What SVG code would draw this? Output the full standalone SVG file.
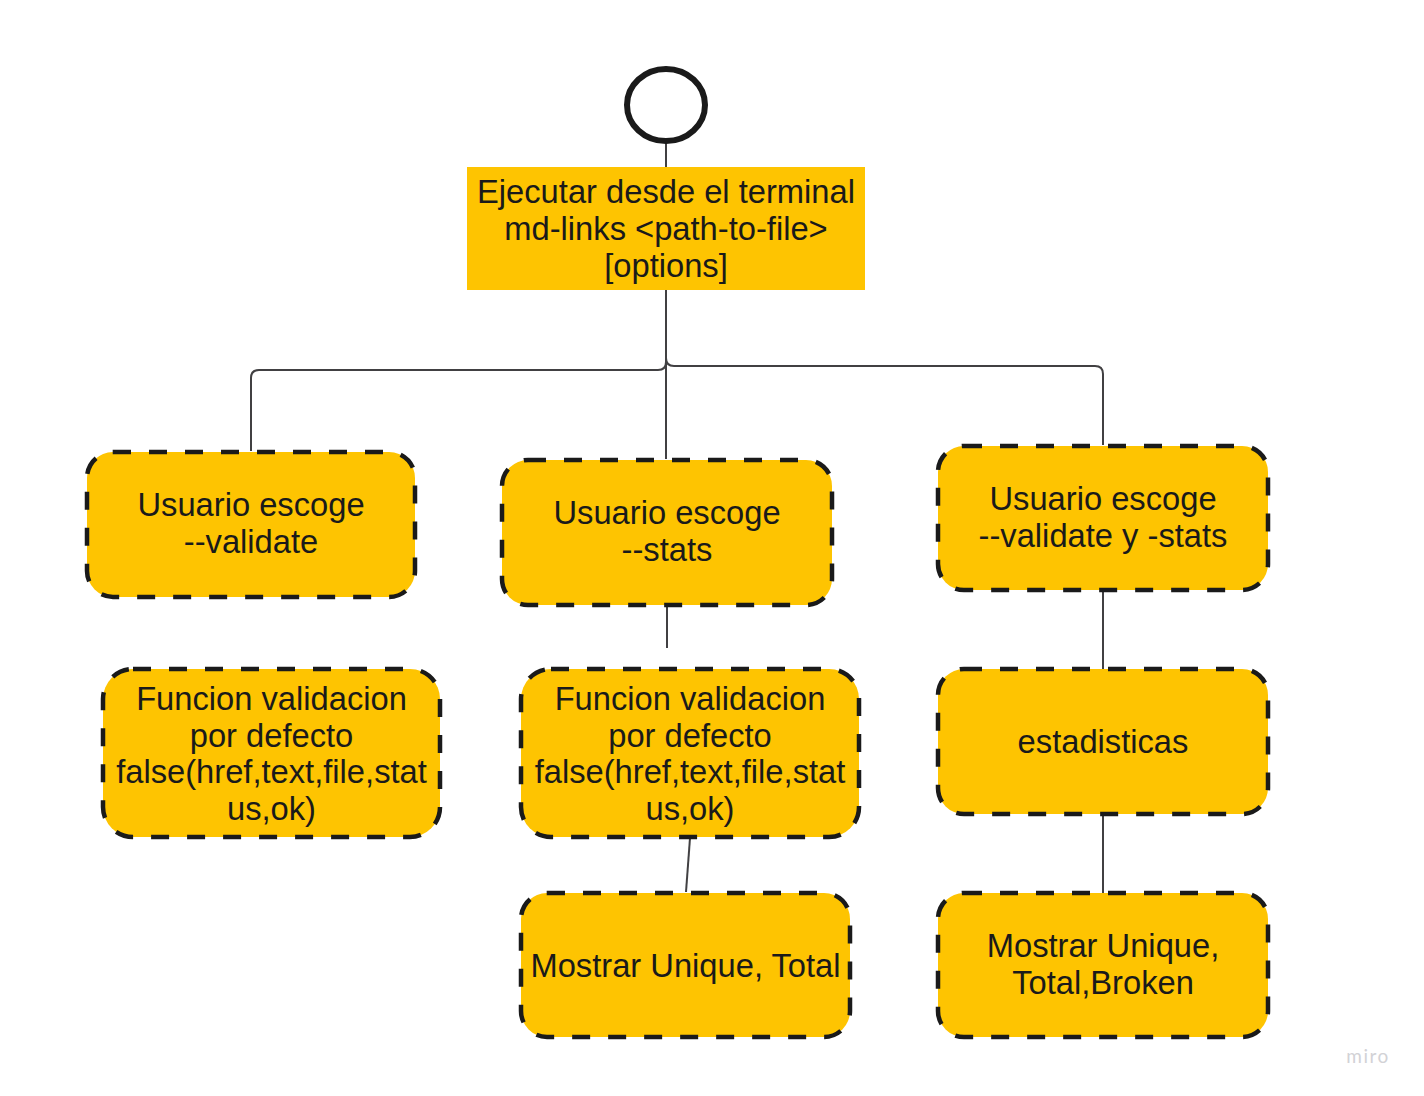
<svg xmlns="http://www.w3.org/2000/svg" width="1424" height="1096" viewBox="0 0 1424 1096">
<style>
.box{fill:#fec401;stroke:#1a1a1a;stroke-width:4.5;stroke-dasharray:18 18}
.t{font-family:"Liberation Sans",Arial,sans-serif;font-size:32.7px;fill:#1a1a1a;text-anchor:middle}
.c{fill:none;stroke:#414042;stroke-width:2}
</style>
<rect width="1424" height="1096" fill="#ffffff"/>
<g id="connectors">
<path class="c" d="M666,143 V167"/>
<path class="c" d="M666,290 V362 Q666,370 658,370 H259 Q251,370 251,378 V451"/>
<path class="c" d="M666,290 V358 Q666,366 674,366 H1095 Q1103,366 1103,374 V445"/>
<path class="c" d="M666,290 V459"/>
<path class="c" d="M667,606 V648"/>
<path class="c" d="M690,838 L686,892"/>
<path class="c" d="M1103,591 V669"/>
<path class="c" d="M1103,815 V893"/>
</g>
<g id="start">
<ellipse cx="666" cy="105" rx="39" ry="36" fill="#ffffff" stroke="#1a1a1a" stroke-width="6"/>
</g>
<g id="ejecutar">
<rect x="467" y="167" width="398" height="123" fill="#fec401"/>
<text class="t"><tspan x="666" y="202.5">Ejecutar desde el terminal</tspan><tspan x="666" y="239.5">md-links &lt;path-to-file&gt;</tspan><tspan x="666" y="276.5">[options]</tspan></text>
</g>
<g id="validate">
<rect class="box" x="87" y="452" width="328" height="145" rx="26"/>
<text class="t"><tspan x="251" y="516">Usuario escoge</tspan><tspan x="251" y="553">--validate</tspan></text>
</g>
<g id="stats">
<rect class="box" x="502" y="460" width="330" height="145" rx="26"/>
<text class="t"><tspan x="667" y="524">Usuario escoge</tspan><tspan x="667" y="561">--stats</tspan></text>
</g>
<g id="validate-stats">
<rect class="box" x="938" y="446" width="330" height="144" rx="26"/>
<text class="t"><tspan x="1103" y="510">Usuario escoge</tspan><tspan x="1103" y="547">--validate y -stats</tspan></text>
</g>
<g id="funcion-left">
<rect class="box" x="103" y="669" width="337" height="168" rx="30"/>
<text class="t"><tspan x="271.5" y="710">Funcion validacion</tspan><tspan x="271.5" y="746.5">por defecto</tspan><tspan x="271.5" y="783">false(href,text,file,stat</tspan><tspan x="271.5" y="819.5">us,ok)</tspan></text>
</g>
<g id="funcion-mid">
<rect class="box" x="521" y="669" width="338" height="168" rx="30"/>
<text class="t"><tspan x="690" y="710">Funcion validacion</tspan><tspan x="690" y="746.5">por defecto</tspan><tspan x="690" y="783">false(href,text,file,stat</tspan><tspan x="690" y="819.5">us,ok)</tspan></text>
</g>
<g id="estadisticas">
<rect class="box" x="938" y="669" width="330" height="145" rx="26"/>
<text class="t" x="1103" y="753">estadisticas</text>
</g>
<g id="mostrar-total">
<rect class="box" x="521" y="893" width="329" height="144" rx="26"/>
<text class="t" x="685.5" y="976.5">Mostrar Unique, Total</text>
</g>
<g id="mostrar-broken">
<rect class="box" x="938" y="893" width="330" height="144" rx="26"/>
<text class="t"><tspan x="1103" y="957">Mostrar Unique,</tspan><tspan x="1103" y="994">Total,Broken</tspan></text>
</g>
<text x="1368" y="1063" font-family="Lato,'Liberation Sans',sans-serif" font-size="19" fill="#d2d2d6" text-anchor="middle" letter-spacing="1.5">miro</text>
</svg>
